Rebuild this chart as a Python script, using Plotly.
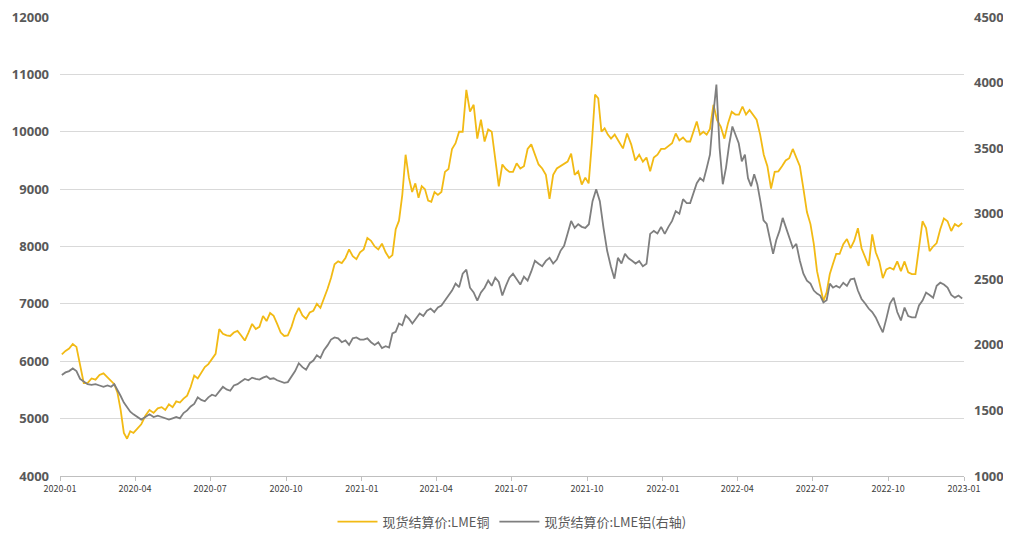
import calendar
from datetime import datetime, timedelta
import plotly.graph_objects as go

# ---- data: values per month (Jan..Dec) ----
years = [2020, 2021, 2022]

copper_2020 = [
    [6120, 6180, 6220, 6300, 6250, 5900, 5620],
    [5620, 5700, 5680, 5760, 5790, 5720],
    [5650, 5600, 5450, 5150, 4750, 4650, 4780, 4750],
    [4820, 4900, 5050, 5150, 5100, 5180],
    [5200, 5150, 5250, 5200, 5300, 5280, 5350],
    [5400, 5550, 5750, 5700, 5800, 5900, 5950],
    [6050, 6130, 6560, 6480, 6450, 6440, 6500],
    [6530, 6450, 6360, 6500, 6650, 6560, 6600],
    [6790, 6700, 6840, 6790, 6650, 6500, 6440],
    [6450, 6600, 6800, 6930, 6800, 6740, 6850],
    [6880, 7000, 6930, 7080, 7260, 7450, 7690],
    [7740, 7710, 7800, 7950, 7830, 7780, 7900],
]
copper_2021 = [
    [7950, 8150, 8100, 8000, 7950, 8050, 7900],
    [7800, 7850, 8300, 8450, 8900, 9600, 9200],
    [8950, 9100, 8850, 9050, 9000, 8800, 8780, 8950],
    [8900, 8950, 9300, 9350, 9700, 9800, 10000],
    [10000, 10730, 10350, 10470, 9880, 10210, 9830],
    [10040, 10000, 9480, 9050, 9430, 9350, 9300],
    [9300, 9450, 9360, 9400, 9700, 9780, 9600],
    [9430, 9360, 9250, 8830, 9250, 9360, 9400],
    [9450, 9480, 9620, 9250, 9310, 9080, 9200],
    [9100, 9800, 10650, 10580, 10000, 10060, 9950, 9880],
    [9950, 9830, 9710, 9970, 9780, 9500],
    [9600, 9480, 9550, 9310, 9550, 9600, 9700],
]
copper_2022 = [
    [9700, 9750, 9800, 9970, 9850, 9900, 9830],
    [9830, 10000, 10180, 9950, 10000, 9950, 10050],
    [10470, 10200, 10090, 9880, 10150, 10350, 10300],
    [10300, 10440, 10300, 10380, 10300, 10210, 9950],
    [9600, 9400, 9010, 9300, 9310, 9400, 9500],
    [9540, 9700, 9550, 9400, 9010, 8600, 8390],
    [8040, 7570, 7300, 7050, 7200, 7520, 7700, 7870],
    [7870, 8040, 8130, 7970, 8100, 8320, 7970],
    [7800, 7660, 8210, 7900, 7740, 7450, 7600],
    [7630, 7600, 7740, 7570, 7740, 7550, 7520],
    [7520, 7970, 8440, 8320, 7920, 8000, 8060],
    [8300, 8490, 8440, 8270, 8390, 8350, 8410],
]

aluminum_2020 = [
    [1770, 1790, 1800, 1820, 1800, 1740, 1720],
    [1700, 1695, 1700, 1690, 1680, 1690],
    [1680, 1700, 1660, 1610, 1560, 1520, 1490, 1470],
    [1450, 1430, 1450, 1470, 1450, 1460],
    [1450, 1440, 1430, 1440, 1450, 1440, 1480],
    [1500, 1530, 1550, 1600, 1580, 1570, 1600],
    [1620, 1610, 1650, 1680, 1660, 1650, 1690],
    [1700, 1720, 1740, 1730, 1750, 1740, 1735],
    [1750, 1760, 1740, 1745, 1730, 1720, 1710],
    [1716, 1760, 1800, 1860, 1830, 1810, 1860],
    [1880, 1920, 1900, 1960, 1996, 2040, 2057],
    [2050, 2020, 2034, 2000, 2050, 2057, 2040],
]
aluminum_2021 = [
    [2040, 2050, 2020, 2000, 2020, 1975, 1990],
    [1980, 2087, 2100, 2163, 2150, 2224, 2200],
    [2163, 2200, 2239, 2220, 2260, 2277, 2250],
    [2285, 2300, 2338, 2380, 2414, 2467, 2440],
    [2543, 2573, 2436, 2400, 2338, 2400, 2436],
    [2490, 2450, 2512, 2480, 2376, 2450, 2512],
    [2543, 2500, 2460, 2520, 2490, 2560, 2641],
    [2618, 2600, 2640, 2664, 2620, 2650, 2717],
    [2755, 2850, 2945, 2892, 2920, 2900, 2892],
    [2920, 3096, 3187, 3096, 2892, 2717, 2600],
    [2505, 2664, 2620, 2694, 2660, 2641, 2620],
    [2640, 2600, 2618, 2846, 2869, 2850, 2900],
]
aluminum_2022 = [
    [2846, 2900, 2945, 3020, 3000, 3111, 3081],
    [3081, 3150, 3233, 3271, 3250, 3347, 3450],
    [3750, 3984, 3500, 3225, 3350, 3529, 3665, 3600],
    [3537, 3400, 3450, 3271, 3210, 3301, 3225, 3096],
    [2950, 2922, 2793, 2694, 2800, 2869, 2968, 2900],
    [2816, 2740, 2770, 2641, 2543, 2490, 2467],
    [2414, 2391, 2376, 2323, 2340, 2467, 2436, 2450],
    [2436, 2474, 2450, 2500, 2505, 2414, 2350],
    [2315, 2277, 2250, 2209, 2150, 2095, 2200],
    [2315, 2360, 2250, 2186, 2285, 2220, 2209],
    [2209, 2300, 2338, 2399, 2380, 2360, 2450],
    [2474, 2460, 2436, 2380, 2360, 2376, 2353],
]

tick_labels = ["2020-01", "2020-04", "2020-07", "2020-10", "2021-01", "2021-04",
               "2021-07", "2021-10", "2022-01", "2022-04", "2022-07", "2022-10", "2023-01"]


def expand(by_year):
    xs, ys = [], []
    for yr, months in zip(years, by_year):
        for m, vals in enumerate(months, start=1):
            ndays = calendar.monthrange(yr, m)[1]
            start = datetime(yr, m, 1)
            n = len(vals)
            for k, v in enumerate(vals):
                xs.append(start + timedelta(days=(k + 0.5) / n * ndays))
                ys.append(v)
    return xs, ys


cu_x, cu_y = expand([copper_2020, copper_2021, copper_2022])
al_x, al_y = expand([aluminum_2020, aluminum_2021, aluminum_2022])

font_main = "Noto Sans CJK SC"
txt = "#595959"

fig = go.Figure()
fig.add_trace(go.Scatter(x=cu_x, y=cu_y, mode="lines", name="现货结算价:LME铜",
                         line=dict(color="#F2BA14", width=1.8)))
fig.add_trace(go.Scatter(x=al_x, y=al_y, mode="lines", name="现货结算价:LME铝(右轴)",
                         line=dict(color="#7F7F7F", width=1.8), yaxis="y2"))

# page body has an 8px margin, so the figure is sized/offset to compensate
fig.update_layout(
    width=1003, height=526,
    margin=dict(l=52, r=47, t=9, b=58, autoexpand=False),
    paper_bgcolor="white", plot_bgcolor="white",
    font=dict(family=font_main, color=txt),
    showlegend=True,
    legend=dict(orientation="h", x=0.5, xanchor="center", y=-0.067, yanchor="top",
                font=dict(size=13, color=txt), itemwidth=40),
    xaxis=dict(
        type="date", range=["2020-01-01", "2023-01-01"],
        tickvals=[l + "-01" for l in tick_labels], ticktext=tick_labels,
        tickfont=dict(size=9, color="#404040"),
        showgrid=False, showline=True, linecolor="#BFBFBF", linewidth=1,
        ticks="outside", ticklen=4, tickcolor="#BFBFBF",
    ),
    yaxis=dict(
        range=[4000, 12000], dtick=1000, tickformat="d",
        tickfont=dict(size=13, color=txt, family="Open Sans", weight="bold"),
        showgrid=True, gridcolor="#D9D9D9", gridwidth=1, zeroline=False,
        showline=False, ticks="", ticklabelstandoff=10, ticklabeloverflow="allow",
    ),
    yaxis2=dict(
        range=[1000, 4500], dtick=500, tickformat="d", overlaying="y", side="right",
        tickfont=dict(size=13, color=txt, family="Open Sans", weight="bold"),
        showgrid=False, zeroline=False, showline=False, ticks="", ticklabelstandoff=9,
        ticklabeloverflow="allow",
    ),
)

fig.write_html("out.html")
